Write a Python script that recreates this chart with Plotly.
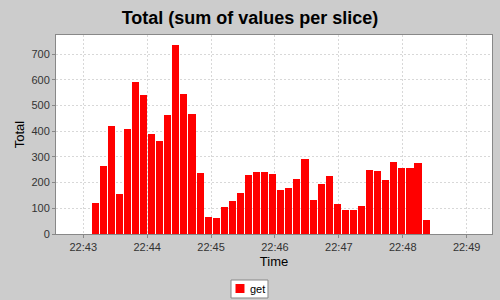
import plotly.graph_objects as go
import pandas as pd

# Data: total per 7.58 s slice, starting 22:43:07.8
slice_start = "2024-01-01 22:43:07.8"
slice_seconds = 7.58
totals = [120, 265, 420, 155, 410, 592, 540, 390, 360, 462,
          735, 545, 465, 237, 68, 62, 105, 128, 158, 228,
          240, 240, 232, 172, 178, 213, 290, 132, 195, 225,
          115, 95, 95, 110, 250, 245, 210, 280, 255, 258,
          275, 55]
series_name = "get"

times = pd.date_range(start=slice_start, periods=len(totals),
                      freq=pd.Timedelta(seconds=slice_seconds))

fig = go.Figure()
fig.add_trace(go.Bar(
    x=times, y=totals, name=series_name,
    offset=0, width=slice_seconds * 1000 * 0.88,
    marker=dict(color="#FF0000", line=dict(width=0)),
    showlegend=False,
))

font = "Liberation Sans, Arial, sans-serif"
fig.update_layout(
    width=500, height=300,
    margin=dict(l=56, r=8, t=35, b=66, autoexpand=False),
    paper_bgcolor="#CCCCCC",
    plot_bgcolor="#FFFFFF",
    font=dict(family=font, size=11, color="#333333"),
    title=dict(text="<b>Total (sum of values per slice)</b>",
               x=0.5, xanchor="center", y=0.94, yanchor="middle",
               font=dict(size=18, color="#000000", family=font)),
    bargap=0,
    showlegend=False,
    xaxis=dict(
        type="date",
        range=["2024-01-01 22:42:34.4", "2024-01-01 22:49:23.8"],
        tickformat="%H:%M", dtick=60000, tick0="2024-01-01 22:43:00",
        ticks="outside", ticklen=3, tickcolor="#888888",
        showgrid=True, gridcolor="#D8D8D8", griddash="2px,2px", gridwidth=1,
        showline=True, linecolor="#888888", linewidth=1, mirror=True,
        title=dict(text="Time", font=dict(size=13, color="#000000"), standoff=4),
        tickfont=dict(size=11, color="#333333"),
    ),
    yaxis=dict(
        range=[0, 774], dtick=100,
        ticks="outside", ticklen=3, tickcolor="#888888",
        showgrid=True, gridcolor="#D8D8D8", griddash="2px,2px", gridwidth=1,
        showline=True, linecolor="#888888", linewidth=1, mirror=True,
        zeroline=False,
        title=dict(text="Total", font=dict(size=13, color="#000000"), standoff=3),
        tickfont=dict(size=11, color="#333333"),
    ),
)

# Custom legend (box + swatch + label)
fig.add_shape(type="rect", xref="paper", yref="paper",
              x0=0.4014, x1=0.4862, y0=-0.3216, y1=-0.2312,
              fillcolor="#FFFFFF", line=dict(color="#888888", width=1))
fig.add_shape(type="rect", xref="paper", yref="paper",
              x0=0.4117, x1=0.4323, y0=-0.2965, y1=-0.2513,
              fillcolor="#FF0000", line=dict(width=0))
fig.add_annotation(xref="paper", yref="paper", x=0.4404, y=-0.2764,
                   xanchor="left", yanchor="middle", showarrow=False,
                   text=series_name, font=dict(size=11, color="#000000"))

fig.write_html("out.html")
